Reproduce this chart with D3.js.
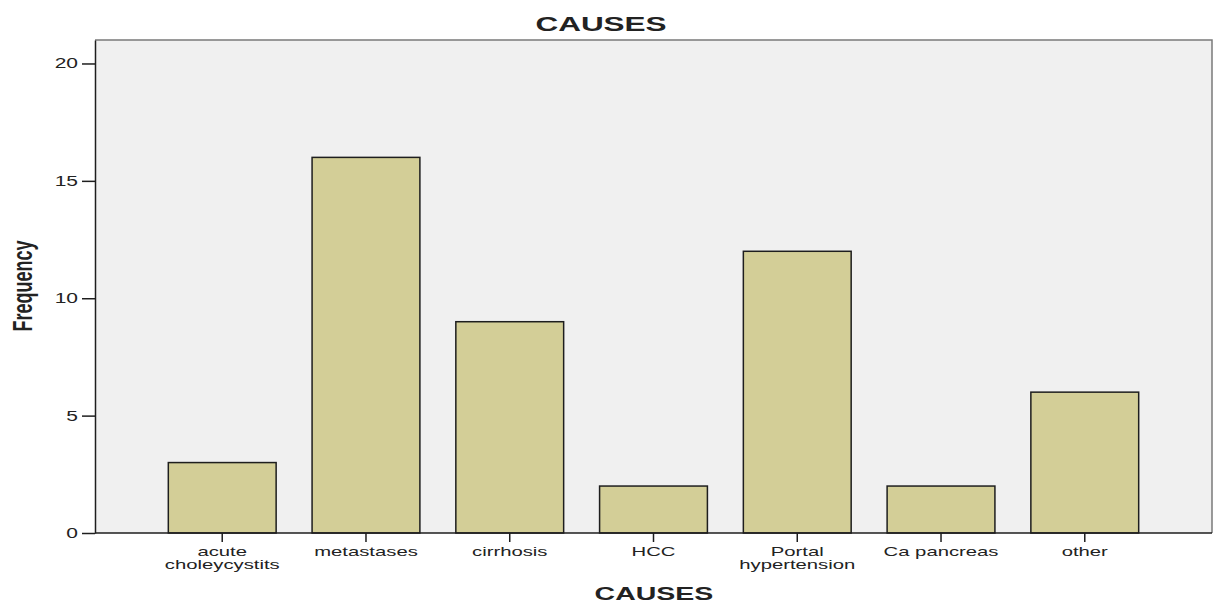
<!DOCTYPE html>
<html>
<head>
<meta charset="utf-8">
<script src="https://cdn.jsdelivr.net/npm/d3@7"></script>
<style>
  html, body { margin: 0; padding: 0; background: #fff; }
  svg { display: block; }
  text { font-family: "Liberation Sans", Arial, sans-serif; fill: #222; }
</style>
</head>
<body>
<svg id="chart" width="1222" height="603"></svg>
<script>
// Frequency of each cause
const categories = [
  ["acute", "choleycystits"],
  ["metastases"],
  ["cirrhosis"],
  ["HCC"],
  ["Portal", "hypertension"],
  ["Ca pancreas"],
  ["other"]
];
const frequencies = [3, 16, 9, 2, 12, 2, 6];
const yTicks = [0, 5, 10, 15, 20];

// text is drawn wide: horizontal stretch applied to every label
const WIDE = 1.5;

const svg = d3.select("#chart");
const plot = { left: 95, right: 1212, top: 40, bottom: 533 };

const keys = categories.map(c => c.join(" "));
const x = d3.scaleBand()
  .domain(keys)
  .range([plot.left, plot.right])
  .paddingInner(0.25)
  .paddingOuter(0.51);

const y = d3.scaleLinear()
  .domain([0, 21])
  .range([plot.bottom, plot.top]);

// plot background
svg.append("rect")
  .attr("x", plot.left).attr("y", plot.top)
  .attr("width", plot.right - plot.left)
  .attr("height", plot.bottom - plot.top)
  .attr("fill", "#f0f0f0");

// top and right frame edges
svg.append("path")
  .attr("d", `M${plot.left},${plot.top}H${plot.right}V${plot.bottom}`)
  .attr("fill", "none").attr("stroke", "#7a7a7a").attr("stroke-width", 1.5);

// bars
svg.append("g").selectAll("rect")
  .data(frequencies)
  .join("rect")
  .attr("x", (d, i) => x(keys[i]))
  .attr("y", d => y(d))
  .attr("width", x.bandwidth())
  .attr("height", d => y(0) - y(d))
  .attr("fill", "#d3ce97")
  .attr("stroke", "#1e1e1e")
  .attr("stroke-width", 1.5);

// y axis
const yAxis = svg.append("g")
  .attr("transform", `translate(${plot.left},0)`)
  .call(d3.axisLeft(y).tickValues(yTicks).tickSize(13).tickPadding(4).tickSizeOuter(0));
yAxis.select(".domain").attr("stroke", "#1e1e1e").attr("stroke-width", 1.5);
yAxis.selectAll(".tick line").attr("stroke", "#1e1e1e").attr("stroke-width", 1.5);
yAxis.selectAll(".tick text")
  .attr("font-size", 14).attr("fill", "#222")
  .attr("font-family", "Liberation Sans, Arial, sans-serif")
  .attr("x", -17 / WIDE)
  .attr("transform", `scale(${WIDE},1)`);

// x axis
const xAxis = svg.append("g")
  .attr("transform", `translate(0,${plot.bottom})`)
  .call(d3.axisBottom(x).tickSize(9).tickSizeOuter(0).tickFormat(""));
xAxis.select(".domain").attr("stroke", "#1e1e1e").attr("stroke-width", 1.5)
  .attr("d", `M${plot.left},0H${plot.right}`);
xAxis.selectAll(".tick line").attr("stroke", "#1e1e1e").attr("stroke-width", 1.5);

// multi-line category labels
xAxis.selectAll(".tick").each(function(d, i) {
  const t = d3.select(this).append("text")
    .attr("text-anchor", "middle")
    .attr("font-size", 13)
    .attr("font-family", "Liberation Sans, Arial, sans-serif")
    .attr("fill", "#222")
    .attr("transform", `scale(1.56,1)`);
  categories[i].forEach((line, j) => {
    t.append("tspan").attr("x", 0).attr("y", 23 + j * 13).text(line);
  });
});

// titles
svg.append("text")
  .attr("transform", `translate(601,31) scale(${WIDE},1)`)
  .attr("text-anchor", "middle")
  .attr("font-size", 21).attr("font-weight", "bold")
  .attr("fill", "#111")
  .text("CAUSES");

svg.append("text")
  .attr("transform", `translate(654,600) scale(${WIDE},1)`)
  .attr("text-anchor", "middle")
  .attr("font-size", 19).attr("font-weight", "bold")
  .attr("fill", "#111")
  .text("CAUSES");

svg.append("text")
  .attr("transform", `translate(32,286) scale(${WIDE},1) rotate(-90)`)
  .attr("text-anchor", "middle")
  .attr("font-size", 18).attr("font-weight", "bold")
  .attr("fill", "#111")
  .text("Frequency");
</script>
</body>
</html>
